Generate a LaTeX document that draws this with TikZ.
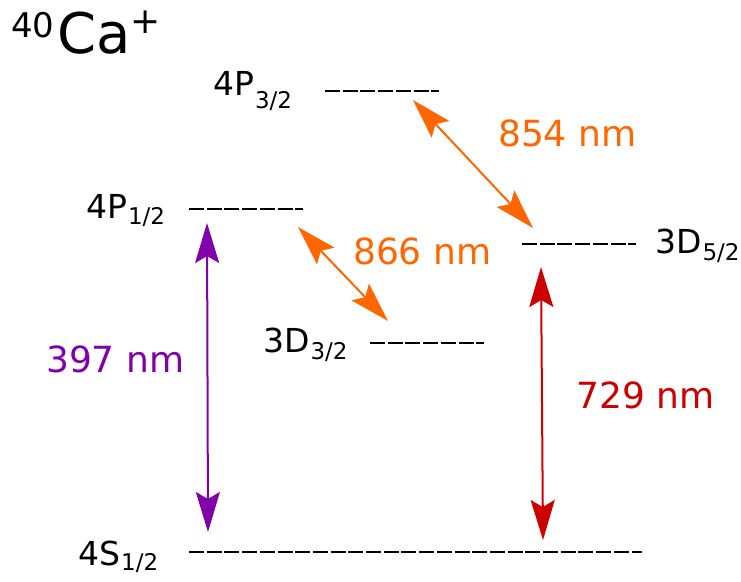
\documentclass[tikz,border=0pt]{standalone}
\usepackage{fontspec}
\setmainfont{DejaVu Sans}
\usetikzlibrary{arrows.meta}
\definecolor{cpurple}{RGB}{128,0,170}
\definecolor{cred}{RGB}{204,0,0}
\definecolor{corange}{RGB}{255,102,0}
\newcommand{\lvl}[3]{#1\kern1pt\raisebox{-#3pt}{\fontsize{23}{23}\selectfont #2}}
\begin{document}
\begin{tikzpicture}[x=1pt,y=-1pt,
  level/.style={draw=black,line width=2.4pt,dash pattern=on 15pt off 2.7pt},
  lab/.style={anchor=base west,inner sep=0pt,font=\fontsize{33}{33}\selectfont},
  wl/.style={anchor=base west,inner sep=0pt,font=\fontsize{36}{36}\selectfont},
  trans/.style={line width=2pt,{Stealth[length=40pt,width=24pt,inset=7pt]}-{Stealth[length=40pt,width=24pt,inset=7pt]}}]
\useasboundingbox (0,0) rectangle (741,581);
% title
\node[anchor=base west,inner sep=0pt] (title) at (11,53)
  {\raisebox{16pt}{\fontsize{34}{34}\selectfont 40}\kern3pt{\fontsize{56}{56}\selectfont Ca}\raisebox{20pt}{\fontsize{36}{36}\selectfont +}};
% levels
\coordinate (p32a) at (325,91);  \coordinate (p32b) at (439,91);
\coordinate (p12a) at (189,209); \coordinate (p12b) at (303,209);
\coordinate (d52a) at (522,244); \coordinate (d52b) at (636,244);
\coordinate (d32a) at (370,343); \coordinate (d32b) at (484,343);
\coordinate (s12a) at (189,552); \coordinate (s12b) at (642,552);
\draw[level] (p32a) -- (p32b);
\draw[level] (p12a) -- (p12b);
\draw[level] (d52a) -- (d52b);
\draw[level] (d32a) -- (d32b);
\draw[level] (s12a) -- (s12b);
% level labels
\node[lab] (lp32) at (213,95)  {\lvl{4P}{3/2}{13}};
\node[lab] (lp12) at (86,218)  {\lvl{4P}{1/2}{6}};
\node[lab] (ld52) at (655,253) {\lvl{3D}{5/2}{7}};
\node[lab] (ld32) at (263,352) {\lvl{3D}{3/2}{7}};
\node[lab] (ls12) at (78,565)  {\lvl{4S}{1/2}{5}};
% transitions
\coordinate (t397a) at (207,223); \coordinate (t397b) at (208,532);
\coordinate (t729a) at (541,267); \coordinate (t729b) at (543,540);
\coordinate (t866a) at (298,227); \coordinate (t866b) at (388,321);
\coordinate (t854a) at (413,100); \coordinate (t854b) at (533,228);
\draw[trans,cpurple] (t397a) -- (t397b);
\draw[trans,cred] (t729a) -- (t729b);
\draw[trans,corange] (t866a) -- (t866b);
\draw[trans,corange] (t854a) -- (t854b);
% wavelength labels
\node[wl,text=cpurple] (w397) at (46,372) {397 nm};
\node[wl,text=cred] (w729) at (576,408) {729 nm};
\node[wl,text=corange] (w866) at (353,264) {866 nm};
\node[wl,text=corange] (w854) at (498,146) {854 nm};
\end{tikzpicture}
\end{document}
